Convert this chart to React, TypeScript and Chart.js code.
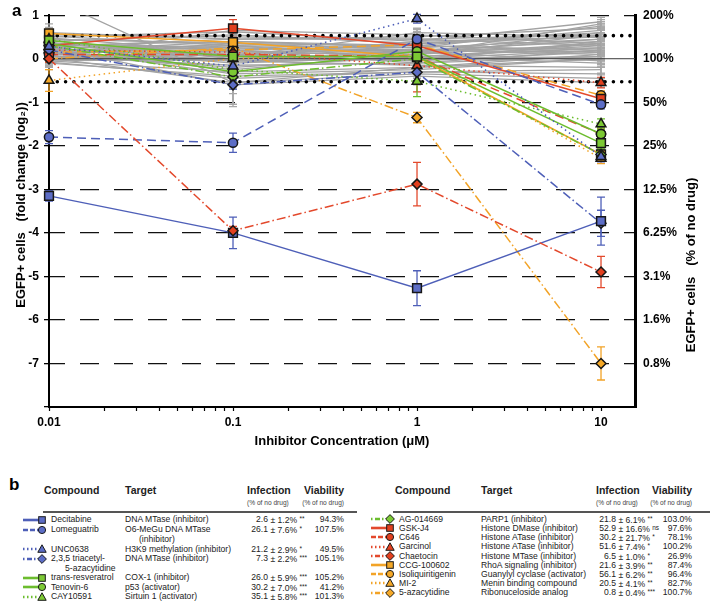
import React, { useEffect, useRef } from 'react';
import { Chart, registerables } from 'chart.js';

Chart.register(...registerables);

const FONT = '"Liberation Sans", Arial, Helvetica, sans-serif';

// ---------- axes ----------
const CONC = [0.01, 0.1, 1, 10];
const X_MAX = 15.3;
const X_TICKS = [0.01, 0.02, 0.03, 0.04, 0.05, 0.06, 0.07, 0.08, 0.09, 0.1, 0.2, 0.3, 0.4, 0.5, 0.6, 0.7, 0.8, 0.9, 1, 2, 3, 4, 5, 6, 7, 8, 9, 10];
const X_MAJOR = [0.01, 0.1, 1, 10];
const X_LABELS = ['0.01', '0.1', '1', '10'];
const Y_TICKS = [1, 0, -1, -2, -3, -4, -5, -6, -7, -8];
const LEFT_LABELS = ['1', '0', '-1', '-2', '-3', '-4', '-5', '-6', '-7', ''];
const RIGHT_LABELS = ['200%', '100%', '50%', '25%', '12.5%', '6.25%', '3.1%', '1.6%', '0.8%', ''];
const THRESHOLDS = [0.53, -0.53];
const X_TITLE = 'Inhibitor Concentration (\u03bcM)';
const Y_TITLE = 'EGFP+ cells   (fold change (log\u2082))';
const Y2_TITLE = 'EGFP+ cells   (% of no drug)';

// ---------- highlighted compounds (log2 fold change at 0.01, 0.1, 1, 10 uM) ----------
const DECITABINE = [-3.15, -4.0, -5.27, -3.73];
const DECITABINE_ERR = [0.12, 0.36, 0.4, 0.55];
const LOMEGUATRIB = [-1.8, -1.93, 0.45, -1.05];
const LOMEGUATRIB_ERR = [0.15, 0.22, 0.1, 0.1];
const UNC0638 = [0.28, -0.17, 0.92, -2.25];
const UNC0638_ERR = [0.1, 0.1, 0.1, 0.12];
const TRIACETYL = [0.2, -0.6, -0.31, -3.78];
const TRIACETYL_ERR = [0.1, 0.1, 0.1, 0.3];
const RESVERATROL = [0.42, 0.05, 0.05, -1.94];
const RESVERATROL_ERR = [0.1, 0.1, 0.1, 0.15];
const TENOVIN6 = [0.35, -0.3, 0.17, -1.73];
const TENOVIN6_ERR = [0.1, 0.1, 0.25, 0.15];
const CAY10591 = [0.45, -0.25, -0.52, -1.5];
const CAY10591_ERR = [0.1, 0.1, 0.35, 0.12];
const AG014669 = [0.3, -0.42, 0.0, -2.2];
const AG014669_ERR = [0.1, 0.1, 0.1, 0.15];
const GSKJ4 = [0.3, 0.7, 0.3, -0.92];
const GSKJ4_ERR = [0.1, 0.2, 0.1, 0.12];
const C646 = [0.1, 0.1, 0.05, -1.73];
const C646_ERR = [0.1, 0.1, 0.1, 0.12];
const GARCINOL = [0.2, 0.15, -0.16, -0.55];
const GARCINOL_ERR = [0.1, 0.1, 0.6, 0.12];
const CHAETOCIN = [0.0, -3.95, -2.88, -4.9];
const CHAETOCIN_ERR = [0.08, 0.1, 0.5, 0.36];
const CCG100602 = [0.58, 0.38, 0.04, -2.2];
const CCG100602_ERR = [0.1, 0.1, 0.1, 0.12];
const ISOLIQUIRITIGENIN = [0.15, 0.2, 0.32, -0.84];
const ISOLIQUIRITIGENIN_ERR = [0.1, 0.1, 0.1, 0.1];
const MI2 = [-0.5, 0.0, 0.1, -2.29];
const MI2_ERR = [0.25, 0.1, 0.1, 0.12];
const AZACYTIDINE = [0.0, 0.25, -1.35, -7.0];
const AZACYTIDINE_ERR = [0.08, 0.1, 0.12, 0.38];

// ---------- background compounds (grey) ----------
const GRAY_SERIES = [
  [0.55, 0.5, 0.45, 0.3],
  [0.5, 0.62, 0.4, 0.5],
  [0.45, 0.35, 0.3, 0.2],
  [0.4, 0.55, 0.35, 0.6],
  [0.35, 0.25, 0.2, 0.1],
  [0.3, 0.4, 0.25, 0.45],
  [0.3, 0.1, 0.15, -0.05],
  [0.25, 0.3, 0.1, 0.35],
  [0.25, -0.1, 0.05, 0.25],
  [0.2, 0.2, 0.3, 0.65],
  [0.2, 0.05, -0.05, 0.15],
  [0.15, 0.15, 0.2, 0.4],
  [0.15, -0.25, 0.1, 0.55],
  [0.1, 0.0, 0.0, 0.05],
  [0.1, 0.3, 0.25, 0.75],
  [0.05, -0.15, -0.1, 0.2],
  [0.05, 0.1, 0.35, 0.5],
  [0.0, -0.05, -0.15, -0.2],
  [0.0, 0.2, 0.05, 0.3],
  [-0.05, -0.3, -0.2, 0.1],
  [-0.05, 0.0, 0.15, 0.45],
  [-0.1, -0.4, -0.3, -0.35],
  [0.6, 0.45, 0.5, 0.7],
  [0.48, 0.15, 0.2, 0.15],
  [0.38, -0.05, 0.0, 0.35],
  [0.28, 0.45, 0.45, 0.55],
  [0.22, -0.35, -0.25, 0.0],
  [0.18, 0.25, 0.15, 0.6],
  [0.12, -0.2, 0.05, -0.1],
  [0.08, 0.35, 0.2, 0.25],
  [0.02, -0.55, -0.35, -0.45],
  [-0.02, 0.1, -0.05, 0.4],
  [0.42, 0.0, 0.1, 0.8],
  [0.33, 0.2, -0.1, 0.05],
  [0.26, -0.6, -0.4, -0.55],
  [0.16, 0.4, 0.3, 0.15],
  [1.4, -0.55, -0.2, 0.0],
  [0.06, 0.65, 0.55, 0.35],
  [0.36, 0.05, 0.4, 0.85],
  [-0.08, -0.45, -0.3, -0.25],
  [0.52, 0.3, 0.0, 0.2],
  [0.24, 0.05, 0.6, 0.5],
];
const GRAY_ERRORS = [
  [0.12, 0.1, 0.1, 0.12],
  [0.1, 0.12, 0.1, 0.1],
  [0.1, 0.1, 0.12, 0.1],
  [0.12, 0.1, 0.1, 0.15],
  [0.1, 0.1, 0.1, 0.1],
  [0.1, 0.12, 0.1, 0.1],
  [0.1, 0.1, 0.1, 0.12],
  [0.12, 0.1, 0.1, 0.1],
  [0.1, 0.15, 0.1, 0.1],
  [0.1, 0.1, 0.12, 0.15],
  [0.1, 0.1, 0.1, 0.1],
  [0.12, 0.1, 0.1, 0.1],
  [0.1, 0.2, 0.1, 0.12],
  [0.1, 0.1, 0.1, 0.1],
  [0.1, 0.1, 0.1, 0.1],
  [0.12, 0.15, 0.1, 0.1],
  [0.1, 0.1, 0.12, 0.1],
  [0.15, 0.1, 0.1, 0.15],
  [0.1, 0.1, 0.1, 0.1],
  [0.15, 0.3, 0.15, 0.1],
  [0.1, 0.1, 0.1, 0.12],
  [0.15, 0.7, 0.2, 0.15],
  [0.2, 0.12, 0.12, 0.1],
  [0.1, 0.1, 0.1, 0.1],
  [0.1, 0.15, 0.1, 0.1],
  [0.12, 0.1, 0.15, 0.1],
  [0.1, 0.3, 0.15, 0.12],
  [0.1, 0.1, 0.1, 0.12],
  [0.1, 0.2, 0.1, 0.1],
  [0.1, 0.1, 0.1, 0.1],
  [0.12, 0.5, 0.2, 0.12],
  [0.1, 0.1, 0.1, 0.1],
  [0.15, 0.1, 0.1, 0.1],
  [0.1, 0.1, 0.12, 0.1],
  [0.12, 0.45, 0.2, 0.1],
  [0.1, 0.1, 0.1, 0.1],
  [0.1, 0.15, 0.1, 0.1],
  [0.1, 0.1, 0.12, 0.1],
  [0.15, 0.1, 0.1, 0.1],
  [0.1, 0.35, 0.15, 0.12],
  [0.2, 0.1, 0.1, 0.1],
  [0.1, 0.1, 0.1, 0.1],
];

// ---------- table b ----------
const COMPOUNDS = ['Decitabine', 'Lomeguatrib', 'UNC0638', '2,3,5 triacetyl-\n5-azacytidine', 'trans-resveratrol', 'Tenovin-6', 'CAY10591', 'AG-014669', 'GSK-J4', 'C646', 'Garcinol', 'Chaetocin', 'CCG-100602', 'Isoliquiritigenin', 'MI-2', '5-azacytidine'];
const TARGETS = ['DNA MTase (inhibitor)', 'O6-MeGu DNA MTase\n(inhibitor)', 'H3K9 methylation (inhibitor)', 'DNA MTase (inhibitor)', 'COX-1 (inhibitor)', 'p53 (activator)', 'Sirtuin 1 (activator)', 'PARP1 (inhibitor)', 'Histone DMase (inhibitor)', 'Histone ATase (inhibitor)', 'Histone ATase (inhibitor)', 'Histone MTase (inhibitor)', 'RhoA signaling (inhibitor)', 'Guanylyl cyclase (activator)', 'Menin binding compound', 'Ribonuceloside analog'];
const INFECTION_MEAN = ['2.6', '26.1', '21.2', '7.3', '26.0', '30.2', '35.1', '21.8', '52.9', '30.2', '51.6', '6.5', '21.6', '56.1', '20.5', '0.8'];
const INFECTION_SD = ['1.2', '7.6', '2.9', '2.2', '5.9', '7.0', '5.8', '6.1', '16.6', '21.7', '7.4', '1.0', '3.9', '6.2', '4.1', '0.4'];
const SIGNIF = ['**', '*', '*', '***', '***', '***', '***', '**', 'ns', '*', '*', '*', '**', '**', '**', '***'];
const VIABILITY = ['94.3%', '107.5%', '49.5%', '105.1%', '105.2%', '41.2%', '101.3%', '103.0%', '97.6%', '78.1%', '100.2%', '26.9%', '87.4%', '96.4%', '82.7%', '100.7%'];

const GROUP_COLORS: Record<string, { line: string; fill: string }> = {
  blue: { line: '#4e5fb8', fill: '#5c6dc6' },
  green: { line: '#6cbd2e', fill: '#7cc934' },
  red: { line: '#e3492c', fill: '#e2401f' },
  orange: { line: '#f2a327', fill: '#f5a826' },
};
const DASHES: Record<string, number[]> = {
  solid: [],
  dash: [9, 5],
  dot: [1.5, 3.5],
  dashdot: [9, 3, 1.5, 3],
};
const SVG_DASH: Record<string, string | undefined> = {
  solid: undefined,
  dash: '5,2',
  dot: '1.5,2.5',
  dashdot: '1.5,2.5,5,2',
};

const SERIES = [
  { values: DECITABINE, errors: DECITABINE_ERR, group: 'blue', dash: 'solid', marker: 'rect' },
  { values: LOMEGUATRIB, errors: LOMEGUATRIB_ERR, group: 'blue', dash: 'dash', marker: 'circle' },
  { values: UNC0638, errors: UNC0638_ERR, group: 'blue', dash: 'dot', marker: 'triangle' },
  { values: TRIACETYL, errors: TRIACETYL_ERR, group: 'blue', dash: 'dashdot', marker: 'rectRot' },
  { values: RESVERATROL, errors: RESVERATROL_ERR, group: 'green', dash: 'solid', marker: 'rect' },
  { values: TENOVIN6, errors: TENOVIN6_ERR, group: 'green', dash: 'solid', marker: 'circle' },
  { values: CAY10591, errors: CAY10591_ERR, group: 'green', dash: 'dot', marker: 'triangle' },
  { values: AG014669, errors: AG014669_ERR, group: 'green', dash: 'dashdot', marker: 'rectRot' },
  { values: GSKJ4, errors: GSKJ4_ERR, group: 'red', dash: 'solid', marker: 'rect' },
  { values: C646, errors: C646_ERR, group: 'red', dash: 'dash', marker: 'circle' },
  { values: GARCINOL, errors: GARCINOL_ERR, group: 'red', dash: 'dot', marker: 'triangle' },
  { values: CHAETOCIN, errors: CHAETOCIN_ERR, group: 'red', dash: 'dashdot', marker: 'rectRot' },
  { values: CCG100602, errors: CCG100602_ERR, group: 'orange', dash: 'solid', marker: 'rect' },
  { values: ISOLIQUIRITIGENIN, errors: ISOLIQUIRITIGENIN_ERR, group: 'orange', dash: 'dash', marker: 'circle' },
  { values: MI2, errors: MI2_ERR, group: 'orange', dash: 'dot', marker: 'triangle' },
  { values: AZACYTIDINE, errors: AZACYTIDINE_ERR, group: 'orange', dash: 'dashdot', marker: 'rectRot' },
];

const MARKER_RADIUS: Record<string, number> = { rect: 6.2, circle: 4.6, triangle: 5.6, rectRot: 5 };

const errorBarPlugin = {
  id: 'errorBars',
  beforeDatasetsDraw(chart: any) {
    const { ctx, chartArea } = chart;
    const xs = chart.scales.x;
    const ys = chart.scales.y;
    ctx.save();
    ctx.beginPath();
    ctx.rect(chartArea.left - 10, chartArea.top - 6, chartArea.right - chartArea.left + 20, chartArea.bottom - chartArea.top + 6);
    ctx.clip();
    const dsets = chart.data.datasets;
    for (let i = dsets.length - 1; i >= 0; i--) {
      const ds = dsets[i];
      if (!ds.errors) continue;
      ctx.strokeStyle = ds.errColor;
      ctx.lineWidth = 1.3;
      ctx.setLineDash([]);
      ds.data.forEach((p: any, j: number) => {
        const e = ds.errors[j];
        if (!e) return;
        const x = xs.getPixelForValue(p.x);
        const yTop = ys.getPixelForValue(p.y + e);
        const yBot = ys.getPixelForValue(p.y - e);
        ctx.beginPath();
        ctx.moveTo(x, yTop);
        ctx.lineTo(x, yBot);
        ctx.moveTo(x - 4, yTop);
        ctx.lineTo(x + 4, yTop);
        ctx.moveTo(x - 4, yBot);
        ctx.lineTo(x + 4, yBot);
        ctx.stroke();
      });
    }
    ctx.restore();
  },
};

const textPlugin = {
  id: 'texts',
  afterDraw(chart: any) {
    const { ctx, chartArea } = chart;
    ctx.save();
    ctx.fillStyle = '#000';
    ctx.textBaseline = 'middle';
    ctx.textAlign = 'left';
    ctx.font = `bold 17px ${FONT}`;
    ctx.fillText('a', 12, 11);
    ctx.font = `bold 13px ${FONT}`;
    ctx.textAlign = 'center';
    ctx.fillText(X_TITLE, (chartArea.left + chartArea.right) / 2, 441);
    ctx.save();
    ctx.translate(21, 205);
    ctx.rotate(-Math.PI / 2);
    ctx.fillText(Y_TITLE, 0, 0);
    ctx.restore();
    ctx.save();
    ctx.translate(691, 265);
    ctx.rotate(-Math.PI / 2);
    ctx.fillText(Y2_TITLE, 0, 0);
    ctx.restore();
    ctx.restore();
  },
};

function buildConfig(): any {
  const toPts = (vals: number[]) => CONC.map((c, j) => ({ x: c, y: vals[j] }));
  const highlighted = SERIES.map((s, k) => {
    const col = GROUP_COLORS[s.group];
    return {
      label: COMPOUNDS[k].replace('\n', ' '),
      data: toPts(s.values),
      errors: s.errors,
      errColor: col.line,
      borderColor: col.line,
      backgroundColor: col.fill,
      borderWidth: 1.5,
      borderDash: DASHES[s.dash],
      pointStyle: s.marker,
      pointRadius: MARKER_RADIUS[s.marker],
      pointBackgroundColor: col.fill,
      pointBorderColor: '#161616',
      pointBorderWidth: 1.5,
      tension: 0,
      clip: false,
      order: k === 11 ? 0 : k + 1,
    };
  });
  const refLines = [
    ...THRESHOLDS.map((t) => ({
      label: 'threshold',
      data: [{ x: CONC[0], y: t }, { x: X_MAX, y: t }],
      borderColor: '#000',
      borderWidth: 3.6,
      borderDash: [0, 8.3],
      borderCapStyle: 'round',
      pointRadius: 0,
      order: 50,
    })),
    {
      label: 'zero',
      data: [{ x: CONC[0], y: 0 }, { x: X_MAX, y: 0 }],
      borderColor: '#3a3a3a',
      borderWidth: 1,
      pointRadius: 0,
      order: 60,
    },
  ];
  const gray = GRAY_SERIES.map((vals, i) => ({
    label: 'other',
    data: toPts(vals),
    errors: GRAY_ERRORS[i],
    errColor: '#a8a8a8',
    borderColor: '#a3a3a3',
    borderWidth: 1.3,
    pointRadius: 0,
    tension: 0,
    order: 100,
  }));

  return {
    type: 'line',
    data: { datasets: [...highlighted, ...refLines, ...gray] },
    options: {
      responsive: false,
      maintainAspectRatio: false,
      devicePixelRatio: 1,
      animation: false,
      events: [],
      layout: { padding: { top: 10, left: 0, right: 0, bottom: 0 } },
      plugins: { legend: { display: false }, tooltip: { enabled: false }, title: { display: false } },
      scales: {
        x: {
          type: 'logarithmic',
          min: CONC[0],
          max: X_MAX,
          afterBuildTicks: (s: any) => {
            s.ticks = X_TICKS.map((v) => ({ value: v }));
          },
          afterFit: (s: any) => {
            s.height = 48;
          },
          ticks: {
            autoSkip: false,
            maxRotation: 0,
            padding: 4,
            color: '#000',
            font: { family: FONT, size: 12, weight: 'bold' },
            callback: (v: number) => {
              const idx = X_MAJOR.indexOf(v);
              return idx >= 0 ? X_LABELS[idx] : '';
            },
          },
          grid: { drawOnChartArea: false, drawTicks: true, tickLength: 4, tickColor: '#000', tickWidth: 1.2 },
          border: { display: true, color: '#000', width: 2 },
        },
        y: {
          type: 'linear',
          position: 'left',
          min: -8,
          max: 1,
          afterBuildTicks: (s: any) => {
            s.ticks = Y_TICKS.map((v) => ({ value: v }));
          },
          afterFit: (s: any) => {
            s.width = 49;
          },
          ticks: {
            padding: 5,
            color: '#000',
            font: { family: FONT, size: 12, weight: 'bold' },
            callback: (v: number) => LEFT_LABELS[Y_TICKS.indexOf(v)],
          },
          grid: {
            drawOnChartArea: true,
            drawTicks: true,
            tickLength: 5,
            tickColor: '#000',
            tickWidth: 1.3,
            lineWidth: 1.3,
            color: (c: any) => (c.tick && (c.tick.value === 0 || c.tick.value === -8) ? 'rgba(0,0,0,0)' : '#111'),
            borderDash: [19, 15],
            borderDashOffset: 4,
          },
          border: { display: true, color: '#000', width: 2, dash: [19, 15], dashOffset: 4 },
        },
        y2: {
          type: 'linear',
          position: 'right',
          min: -8,
          max: 1,
          afterBuildTicks: (s: any) => {
            s.ticks = Y_TICKS.map((v) => ({ value: v }));
          },
          afterFit: (s: any) => {
            s.width = 75;
          },
          ticks: {
            padding: 8,
            color: '#000',
            font: { family: FONT, size: 12, weight: 'bold' },
            callback: (v: number) => RIGHT_LABELS[Y_TICKS.indexOf(v)],
          },
          grid: { drawOnChartArea: false, drawTicks: false },
          border: { display: true, color: '#000', width: 3 },
        },
      },
    },
    plugins: [errorBarPlugin, textPlugin],
  };
}

const TOP0 = 455;

function Marker({ shape, cx, cy, fill }: { shape: string; cx: number; cy: number; fill: string }) {
  const st = { fill, stroke: '#1a1a1a', strokeWidth: 1 };
  if (shape === 'rect') return <rect x={cx - 3.3} y={cy - 3.3} width={6.6} height={6.6} {...st} />;
  if (shape === 'circle') return <circle cx={cx} cy={cy} r={3.6} {...st} />;
  if (shape === 'triangle') return <polygon points={`${cx},${cy - 4.2} ${cx + 4.2},${cy + 3.3} ${cx - 4.2},${cy + 3.3}`} {...st} />;
  return <polygon points={`${cx},${cy - 4.4} ${cx + 4.4},${cy} ${cx},${cy + 4.4} ${cx - 4.4},${cy}`} {...st} />;
}

function Icon({ k, x, y }: { k: number; x: number; y: number }) {
  const s = SERIES[k];
  const col = GROUP_COLORS[s.group];
  return (
    <svg width={28} height={12} style={{ position: 'absolute', left: x, top: y - TOP0 - 6 }}>
      <line x1={1} y1={6} x2={17} y2={6} stroke={col.line} strokeWidth={2.6} strokeDasharray={SVG_DASH[s.dash]} />
      <Marker shape={s.marker} cx={20} cy={6} fill={col.fill} />
    </svg>
  );
}

function Txt({ x, y, size, bold, right, color, children }: any) {
  const lh = size * 1.2;
  const style: any = {
    position: 'absolute',
    top: y - TOP0 - lh / 2,
    fontSize: size,
    lineHeight: `${lh}px`,
    fontWeight: bold ? 'bold' : 'normal',
    whiteSpace: 'pre',
    color: color || '#222',
  };
  if (right) style.right = 710 - x;
  else style.left = x;
  return <div style={style}>{children}</div>;
}

function TableHalf({ idx, rowsY, cols }: { idx: number[]; rowsY: number[]; cols: any }) {
  const out: any[] = [];
  out.push(<Txt key="h1" x={cols.compHead} y={490} size={10.5} bold>Compound</Txt>);
  out.push(<Txt key="h2" x={cols.target} y={490} size={10.5} bold>Target</Txt>);
  out.push(<Txt key="h3" x={cols.infHead} y={490} size={10.5} bold>Infection</Txt>);
  out.push(<Txt key="h4" x={cols.viaRight} y={490} size={10.5} bold right>Viability</Txt>);
  out.push(<Txt key="s1" x={cols.infHead} y={503} size={6.6} color="#444">(% of no drug)</Txt>);
  out.push(<Txt key="s2" x={cols.viaRight} y={503} size={6.6} right color="#444">(% of no drug)</Txt>);
  out.push(
    <div key="rule" style={{ position: 'absolute', left: cols.ruleL, width: cols.ruleR - cols.ruleL, top: 511 - TOP0, height: 1.6, background: '#555' }} />
  );
  idx.forEach((k, r) => {
    const y = rowsY[r];
    const nameParts = COMPOUNDS[k].split('\n');
    const targParts = TARGETS[k].split('\n');
    out.push(<Icon key={`i${k}`} k={k} x={cols.icon} y={y} />);
    out.push(<Txt key={`n${k}`} x={cols.compound} y={y} size={8.6}>{nameParts[0]}</Txt>);
    if (nameParts[1]) out.push(<Txt key={`n2${k}`} x={cols.compound + 14} y={y + 9.3} size={8.6}>{nameParts[1]}</Txt>);
    out.push(<Txt key={`t${k}`} x={cols.target} y={y} size={8.6}>{targParts[0]}</Txt>);
    if (targParts[1]) out.push(<Txt key={`t2${k}`} x={cols.target + 14} y={y + 9.3} size={8.6}>{targParts[1]}</Txt>);
    out.push(<Txt key={`m${k}`} x={cols.infNum} y={y} size={8.6} right>{INFECTION_MEAN[k]}</Txt>);
    out.push(
      <Txt key={`v${k}`} x={cols.infNum} y={y} size={8.6}>
        {` \u00b1 ${INFECTION_SD[k]}% `}
        <span style={{ fontSize: 6.5, verticalAlign: 2 }}>{SIGNIF[k]}</span>
      </Txt>
    );
    out.push(<Txt key={`w${k}`} x={cols.viaRight} y={y} size={8.6} right>{VIABILITY[k]}</Txt>);
  });
  return <>{out}</>;
}

const LEFT_IDX = [0, 1, 2, 3, 4, 5, 6];
const RIGHT_IDX = [7, 8, 9, 10, 11, 12, 13, 14, 15];
const LEFT_ROWS_Y = [519.5, 529.5, 549, 558.5, 577.5, 587, 596.5];
const RIGHT_ROWS_Y = [519, 528.2, 537.4, 546.6, 555.8, 565, 574.2, 583.4, 592.6];

export default function App() {
  const ref = useRef<HTMLCanvasElement>(null);
  useEffect(() => {
    document.body.style.margin = '0';
    const chart = new Chart(ref.current as HTMLCanvasElement, buildConfig());
    return () => chart.destroy();
  }, []);
  return (
    <div style={{ position: 'relative', width: 710, height: 608, background: '#fff', fontFamily: FONT, overflow: 'hidden' }}>
      <style>{'body{margin:0}'}</style>
      <canvas ref={ref} width={710} height={455} style={{ position: 'absolute', left: 0, top: 0, width: 710, height: 455 }} />
      <div style={{ position: 'absolute', left: 0, top: TOP0, width: 710, height: 608 - TOP0 }}>
        <Txt x={9} y={485} size={17} bold color="#000">b</Txt>
        <TableHalf
          idx={LEFT_IDX}
          rowsY={LEFT_ROWS_Y}
          cols={{ icon: 22, compound: 51, compHead: 44, target: 125, infHead: 247, infNum: 268, viaRight: 344, ruleL: 43, ruleR: 357 }}
        />
        <TableHalf
          idx={RIGHT_IDX}
          rowsY={RIGHT_ROWS_Y}
          cols={{ icon: 370, compound: 399, compHead: 395, target: 481, infHead: 596, infNum: 616, viaRight: 692, ruleL: 393, ruleR: 710 }}
        />
      </div>
    </div>
  );
}
